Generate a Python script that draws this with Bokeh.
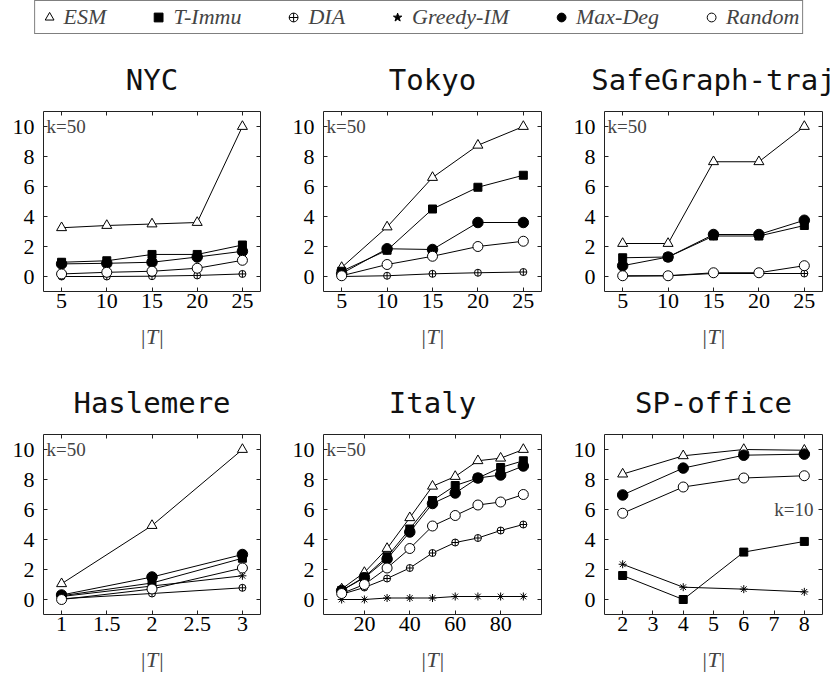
from bokeh.plotting import figure
from bokeh.models import (Range1d, FixedTicker, LinearAxis, Label, Legend,
                          LegendItem, ColumnDataSource, CustomLabelingPolicy)
from bokeh.layouts import column, row
from bokeh.embed import file_html
from bokeh.resources import INLINE

# ---------------- data ----------------
methods = ["ESM", "T-Immu", "DIA", "Greedy-IM", "Max-Deg", "Random"]

nyc_x = [5, 10, 15, 20, 25]
nyc_esm = [3.25, 3.4, 3.5, 3.6, 10.0]
nyc_timmu = [0.95, 1.05, 1.47, 1.47, 2.1]
nyc_dia = [0.0, 0.0, 0.02, 0.07, 0.17]
nyc_maxdeg = [0.84, 0.88, 0.95, 1.3, 1.68]
nyc_random = [0.17, 0.28, 0.35, 0.55, 1.08]

tokyo_x = [5, 10, 15, 20, 25]
tokyo_esm = [0.6, 3.3, 6.6, 8.75, 10.0]
tokyo_timmu = [0.35, 1.75, 4.5, 5.95, 6.75]
tokyo_dia = [0.0, 0.05, 0.18, 0.25, 0.3]
tokyo_maxdeg = [0.2, 1.85, 1.8, 3.6, 3.6]
tokyo_random = [0.05, 0.8, 1.35, 2.0, 2.35]

sg_x = [5, 10, 15, 20, 25]
sg_esm = [2.2, 2.2, 7.65, 7.65, 10.0]
sg_timmu = [1.25, 1.3, 2.7, 2.7, 3.4]
sg_dia = [0.02, 0.05, 0.2, 0.2, 0.2]
sg_maxdeg = [0.72, 1.3, 2.8, 2.8, 3.75]
sg_random = [0.05, 0.05, 0.25, 0.25, 0.72]

has_x = [1, 2, 3]
has_esm = [1.05, 4.93, 10.0]
has_timmu = [0.25, 1.1, 2.75]
has_dia = [0.05, 0.4, 0.78]
has_greedy = [0.2, 0.9, 1.58]
has_maxdeg = [0.3, 1.5, 3.0]
has_random = [0.0, 0.7, 2.1]

ita_x = [10, 20, 30, 40, 50, 60, 70, 80, 90]
ita_esm = [0.7, 1.8, 3.4, 5.45, 7.55, 8.2, 9.25, 9.42, 10.0]
ita_timmu = [0.6, 1.5, 2.85, 4.7, 6.6, 7.6, 8.1, 8.8, 9.25]
ita_dia = [0.35, 0.8, 1.4, 2.1, 3.1, 3.8, 4.1, 4.6, 5.0]
ita_greedy = [0.0, 0.0, 0.1, 0.1, 0.1, 0.2, 0.2, 0.2, 0.2]
ita_maxdeg = [0.6, 1.45, 2.7, 4.5, 6.4, 7.1, 8.1, 8.3, 8.9]
ita_random = [0.4, 1.0, 2.1, 3.4, 4.9, 5.6, 6.3, 6.5, 7.0]

sp_x = [2, 4, 6, 8]
sp_esm = [8.36, 9.58, 10.0, 9.95]
sp_timmu = [1.6, 0.0, 3.16, 3.87]
sp_greedy = [2.35, 0.82, 0.69, 0.51]
sp_maxdeg = [6.97, 8.76, 9.62, 9.69]
sp_random = [5.75, 7.5, 8.1, 8.25]

xticks_25 = [5, 10, 15, 20, 25]
xticks_has = [1, 1.5, 2, 2.5, 3]
xtick_labels_has = ["1", "1.5", "2", "2.5", "3"]
xticks_ita = [20, 40, 60, 80]
xticks_sp = [2, 3, 4, 5, 6, 7, 8]
yticks = [0, 2, 4, 6, 8, 10]

# ---------------- styles ----------------
STYLE = {
    "ESM": dict(marker="triangle", fill_color="white", size=10),
    "T-Immu": dict(marker="square", fill_color="black", size=8),
    "DIA": dict(marker="circle_cross", fill_color="white", size=7),
    "Greedy-IM": dict(marker="asterisk", fill_color="black", size=8),
    "Max-Deg": dict(marker="circle", fill_color="black", size=10.5),
    "Random": dict(marker="circle", fill_color="white", size=10),
}
LEG_MARK = {"ESM": "triangle", "T-Immu": "square", "DIA": "circle_cross",
            "Greedy-IM": "star", "Max-Deg": "circle", "Random": "circle"}
LEG_FILL = {"ESM": "white", "T-Immu": "black", "DIA": "white",
            "Greedy-IM": "black", "Max-Deg": "black", "Random": "white"}

SERIF = "Liberation Serif"
MONO = "DejaVu Sans Mono"

COL_BORDERS = [(43, 19), (44, 17), (46, 15)]

HIDE_LABELS = "for (const i of indices) indices.unset(i); return indices"


def make_panel(title, xs, series, xr, xticks, col, row_idx,
               xlabels=None, ktext="k=50", kpos="left"):
    top = 77 if row_idx == 0 else 79
    height = 321 if row_idx == 0 else 322
    bl, br = COL_BORDERS[col]
    p = figure(width=279, height=height, x_range=Range1d(*xr),
               y_range=Range1d(-1, 11), output_backend="svg",
               toolbar_location=None, min_border_left=bl,
               min_border_right=br, min_border_top=top,
               min_border_bottom=height - top - 180)
    p.grid.visible = False
    p.background_fill_color = "white"
    p.border_fill_color = "white"
    p.outline_line_color = "#222222"
    p.outline_line_width = 1

    p.title.text = title
    p.title.text_font = MONO
    p.title.text_font_size = "29px"
    p.title.text_font_style = "normal"
    p.title.text_color = "#111111"
    p.title.align = "center"
    p.title.standoff = 21

    for ax in (p.xaxis[0], p.yaxis[0]):
        ax.axis_line_color = None
        ax.major_tick_in = 4
        ax.major_tick_out = 0
        ax.minor_tick_line_color = None
        ax.major_tick_line_color = "#222222"
        ax.major_label_text_font = SERIF
        ax.major_label_text_font_size = "22px"
        ax.major_label_text_color = "black"
    p.xaxis[0].ticker = FixedTicker(ticks=xticks)
    p.yaxis[0].ticker = FixedTicker(ticks=yticks)
    if xlabels is not None:
        p.xaxis[0].major_label_overrides = {t: s for t, s in zip(xticks, xlabels)}
    p.xaxis[0].major_label_standoff = 2
    p.yaxis[0].major_label_standoff = 9
    p.xaxis[0].axis_label = "|T|"
    p.xaxis[0].axis_label_text_font = SERIF
    p.xaxis[0].axis_label_text_font_size = "22px"
    p.xaxis[0].axis_label_text_font_style = "italic"
    p.xaxis[0].axis_label_standoff = 13

    for loc, tk in (("above", xticks), ("right", yticks)):
        ax = LinearAxis(ticker=FixedTicker(ticks=tk), axis_line_color=None,
                        major_tick_in=4, major_tick_out=0,
                        minor_tick_line_color=None,
                        major_tick_line_color="#222222",
                        major_label_text_font_size="1px",
                        major_label_standoff=0,
                        major_label_policy=CustomLabelingPolicy(code=HIDE_LABELS))
        p.add_layout(ax, loc)

    for name, ys in series:
        st = STYLE[name]
        p.line(xs, ys, line_color="black", line_width=1)
        p.scatter(xs, ys, marker=st["marker"], size=st["size"],
                  fill_color=st["fill_color"], line_color="black",
                  line_width=1)

    if kpos == "left":
        lab = Label(x=xr[0], y=10, x_offset=3, text=ktext,
                    text_font=SERIF, text_font_size="19px",
                    text_baseline="middle", text_align="left")
    else:
        lab = Label(x=xr[1], y=6, x_offset=-9, text=ktext,
                    text_font=SERIF, text_font_size="19px",
                    text_baseline="middle", text_align="right")
    p.add_layout(lab)
    return p


p1 = make_panel("NYC", nyc_x, [("ESM", nyc_esm), ("T-Immu", nyc_timmu),
                               ("DIA", nyc_dia), ("Max-Deg", nyc_maxdeg),
                               ("Random", nyc_random)],
                (3, 27), xticks_25, 0, 0)
p2 = make_panel("Tokyo", tokyo_x, [("ESM", tokyo_esm), ("T-Immu", tokyo_timmu),
                                   ("DIA", tokyo_dia), ("Max-Deg", tokyo_maxdeg),
                                   ("Random", tokyo_random)],
                (3, 27), xticks_25, 1, 0)
p3 = make_panel("SafeGraph-traj", sg_x, [("ESM", sg_esm), ("T-Immu", sg_timmu),
                                         ("DIA", sg_dia), ("Max-Deg", sg_maxdeg),
                                         ("Random", sg_random)],
                (3, 27), xticks_25, 2, 0)
p4 = make_panel("Haslemere", has_x, [("ESM", has_esm), ("T-Immu", has_timmu),
                                     ("DIA", has_dia), ("Greedy-IM", has_greedy),
                                     ("Max-Deg", has_maxdeg), ("Random", has_random)],
                (0.8, 3.2), xticks_has, 0, 1, xlabels=xtick_labels_has)
p5 = make_panel("Italy", ita_x, [("ESM", ita_esm), ("T-Immu", ita_timmu),
                                 ("DIA", ita_dia), ("Greedy-IM", ita_greedy),
                                 ("Max-Deg", ita_maxdeg), ("Random", ita_random)],
                (2, 98), xticks_ita, 1, 1)
p6 = make_panel("SP-office", sp_x, [("ESM", sp_esm), ("T-Immu", sp_timmu),
                                    ("Greedy-IM", sp_greedy), ("Max-Deg", sp_maxdeg),
                                    ("Random", sp_random)],
                (1.4, 8.6), xticks_sp, 2, 1, ktext="k=10", kpos="right")

# ---------------- legend ----------------
lf = figure(width=837, height=34, output_backend="svg", toolbar_location=None,
            x_range=Range1d(0, 1), y_range=Range1d(0, 1),
            x_axis_location=None, y_axis_location=None, min_border=0)
lf.grid.visible = False
lf.outline_line_color = None
nan = float("nan")
items = []
for m in methods:
    src = ColumnDataSource(dict(x=[nan], y=[nan]))
    r = lf.scatter("x", "y", source=src, marker=LEG_MARK[m], size=9,
                   fill_color=LEG_FILL[m], line_color="black", line_width=1)
    items.append(LegendItem(label=m, renderers=[r]))
leg = Legend(items=items, orientation="horizontal", location="center",
             label_text_font=SERIF, label_text_font_style="italic",
             label_text_font_size="22px", glyph_width=22, glyph_height=22,
             label_standoff=4, spacing=41, padding=3, margin=0,
             border_line_color="black", border_line_width=1,
             background_fill_color="white", background_fill_alpha=1)
lf.add_layout(leg, "center")

layout = column(lf, row(p1, p2, p3), row(p4, p5, p6))
open("out.html", "w").write(file_html(layout, INLINE))
